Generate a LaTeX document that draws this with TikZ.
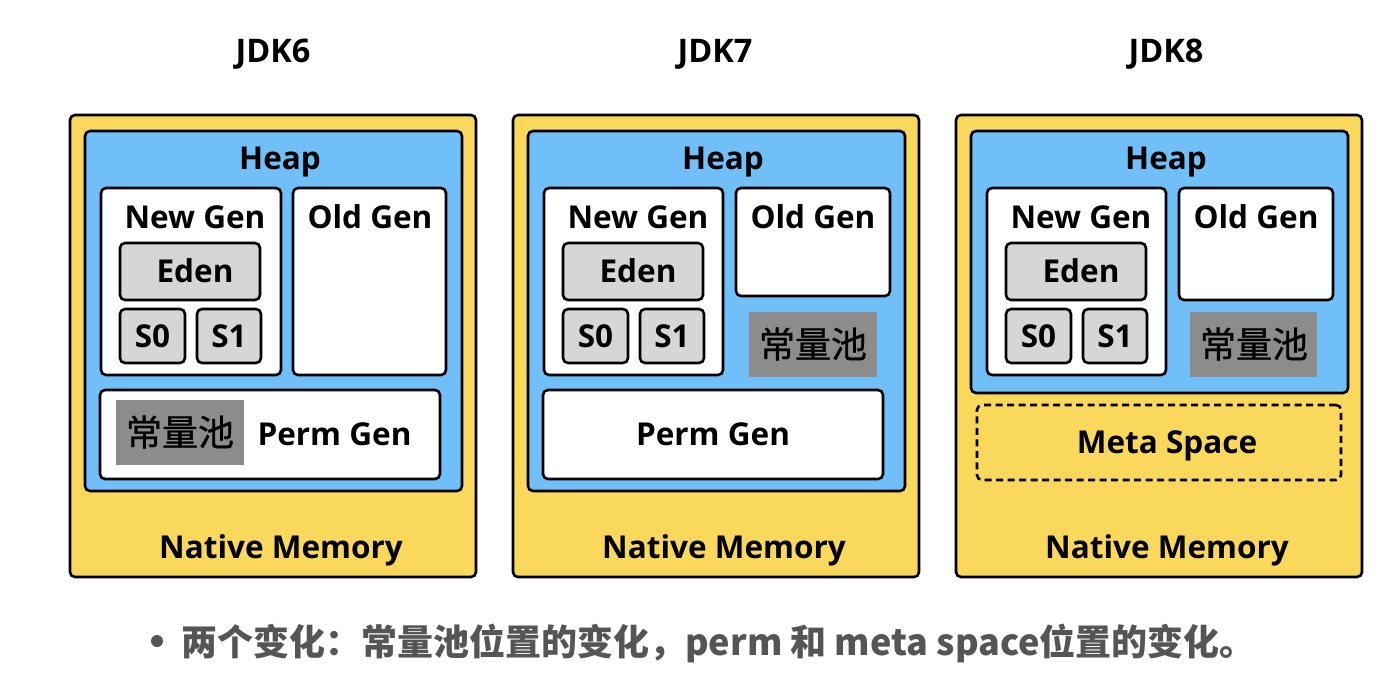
\documentclass[tikz,border=0pt]{standalone}
\usepackage{fontspec}
\setmainfont{Open Sans}
\newfontfamily\cjk{Noto Sans CJK SC}
\newfontfamily\cjkpool{Noto Sans CJK SC}[FakeBold=0.8]
\definecolor{natyel}{RGB}{249,216,92}
\definecolor{heapblue}{RGB}{112,191,248}
\definecolor{edengray}{RGB}{214,214,214}
\definecolor{poolgray}{RGB}{140,140,140}
\definecolor{notegray}{RGB}{85,85,85}
\newcommand\boxnode[6]{\node[#1, minimum width={(#5-#3)*1pt}, minimum height={(#6-#4)*1pt}] (#2) at ({(#3+#5)/2},{(#4+#6)/2}) {};}
\tikzset{
  rbox/.style={draw=black, line width=2.6pt, rounded corners=5pt, inner sep=0pt, outer sep=0pt},
  natbox/.style={rbox, fill=natyel},
  heapbox/.style={rbox, fill=heapblue},
  whitebox/.style={rbox, fill=white},
  edenbox/.style={rbox, fill=edengray},
  poolbox/.style={fill=poolgray, inner sep=0pt, outer sep=0pt},
  metabox/.style={draw=black, line width=2.6pt, rounded corners=5pt, dash pattern=on 7pt off 4.5pt, inner sep=0pt},
  lbl/.style={font=\fontsize{31.5}{31.5}\selectfont\bfseries, inner sep=0pt},
  title/.style={font=\fontsize{32.5}{32.5}\selectfont\bfseries, inner sep=0pt},
  pool/.style={font=\fontsize{36}{36}\selectfont\cjkpool, inner sep=0pt},
}
\begin{document}
\begin{tikzpicture}[x=1pt,y=-1pt]
\useasboundingbox[fill=white] (0,0) rectangle (1392,699);
% ---------- JDK6
\node[title] (t6) at (273,54) {JDK6};
\boxnode{natbox}{nat6}{70}{115}{476}{577}
\boxnode{heapbox}{heap6}{85}{131}{462}{491}
\boxnode{whitebox}{new6}{101}{188}{281}{375}
\boxnode{whitebox}{old6}{293}{188}{446}{375}
\boxnode{edenbox}{eden6}{120}{243}{260}{300}
\boxnode{edenbox}{s06}{120}{309}{185}{363}
\boxnode{edenbox}{s16}{197}{309}{261}{363}
\boxnode{whitebox}{perm6}{100}{390}{440}{479}
\boxnode{poolbox}{pool6}{116}{400}{244}{465}
\node[lbl] (heapl6) at (280,162) {Heap};
\node[lbl] (newl6) at (195,217) {New Gen};
\node[lbl] (oldl6) at (370,217) {Old Gen};
\node[lbl] (edenl6) at (195,271) {Eden};
\node[lbl] (s0l6) at (152.5,336) {S0};
\node[lbl] (s1l6) at (229,336) {S1};
\node[pool] (pooll6) at (180,432) {常量池};
\node[lbl] (perml6) at (334.5,434) {Perm Gen};
\node[lbl] (natl6) at (281,550) {Native Memory};
% ---------- JDK7
\node[title] (t7) at (715,54) {JDK7};
\boxnode{natbox}{nat7}{513}{115}{919}{577}
\boxnode{heapbox}{heap7}{528}{131}{905}{491}
\boxnode{whitebox}{new7}{544}{188}{723}{375}
\boxnode{whitebox}{old7}{736}{188}{890}{296}
\boxnode{edenbox}{eden7}{563}{243}{703}{300}
\boxnode{edenbox}{s07}{563}{309}{628}{363}
\boxnode{edenbox}{s17}{640}{309}{704}{363}
\boxnode{poolbox}{pool7}{749}{312}{877}{377}
\boxnode{whitebox}{perm7}{543}{390}{883}{479}
\node[lbl] (heapl7) at (723,162) {Heap};
\node[lbl] (newl7) at (638,217) {New Gen};
\node[lbl] (oldl7) at (813,217) {Old Gen};
\node[lbl] (edenl7) at (638,271) {Eden};
\node[lbl] (s0l7) at (595.5,336) {S0};
\node[lbl] (s1l7) at (672,336) {S1};
\node[pool] (pooll7) at (813,344) {常量池};
\node[lbl] (perml7) at (713,434) {Perm Gen};
\node[lbl] (natl7) at (724,550) {Native Memory};
% ---------- JDK8
\node[title] (t8) at (1166,54) {JDK8};
\boxnode{natbox}{nat8}{956}{115}{1362}{577}
\boxnode{heapbox}{heap8}{971}{131}{1348}{393}
\boxnode{whitebox}{new8}{987}{188}{1166}{375}
\boxnode{whitebox}{old8}{1179}{188}{1333}{300}
\boxnode{edenbox}{eden8}{1006}{243}{1146}{300}
\boxnode{edenbox}{s08}{1006}{309}{1071}{363}
\boxnode{edenbox}{s18}{1083}{309}{1147}{363}
\boxnode{poolbox}{pool8}{1190}{312}{1317}{377}
\boxnode{metabox}{meta8}{977}{405}{1341}{480}
\node[lbl] (heapl8) at (1166,162) {Heap};
\node[lbl] (newl8) at (1081,217) {New Gen};
\node[lbl] (oldl8) at (1256,217) {Old Gen};
\node[lbl] (edenl8) at (1081,271) {Eden};
\node[lbl] (s0l8) at (1038.5,336) {S0};
\node[lbl] (s1l8) at (1115,336) {S1};
\node[pool] (pooll8) at (1254,344) {常量池};
\node[lbl] (metal8) at (1167,446) {Meta Space};
\node[lbl] (natl8) at (1167,550) {Native Memory};
% ---------- note
\fill[notegray] (157,641) circle (6);
\node[anchor=west, inner sep=0pt, text=notegray, font=\fontsize{36}{36}\selectfont\cjk\bfseries] (note) at (181,643) {两个变化：常量池位置的变化，perm 和 meta space位置的变化。};
\end{tikzpicture}
\end{document}
